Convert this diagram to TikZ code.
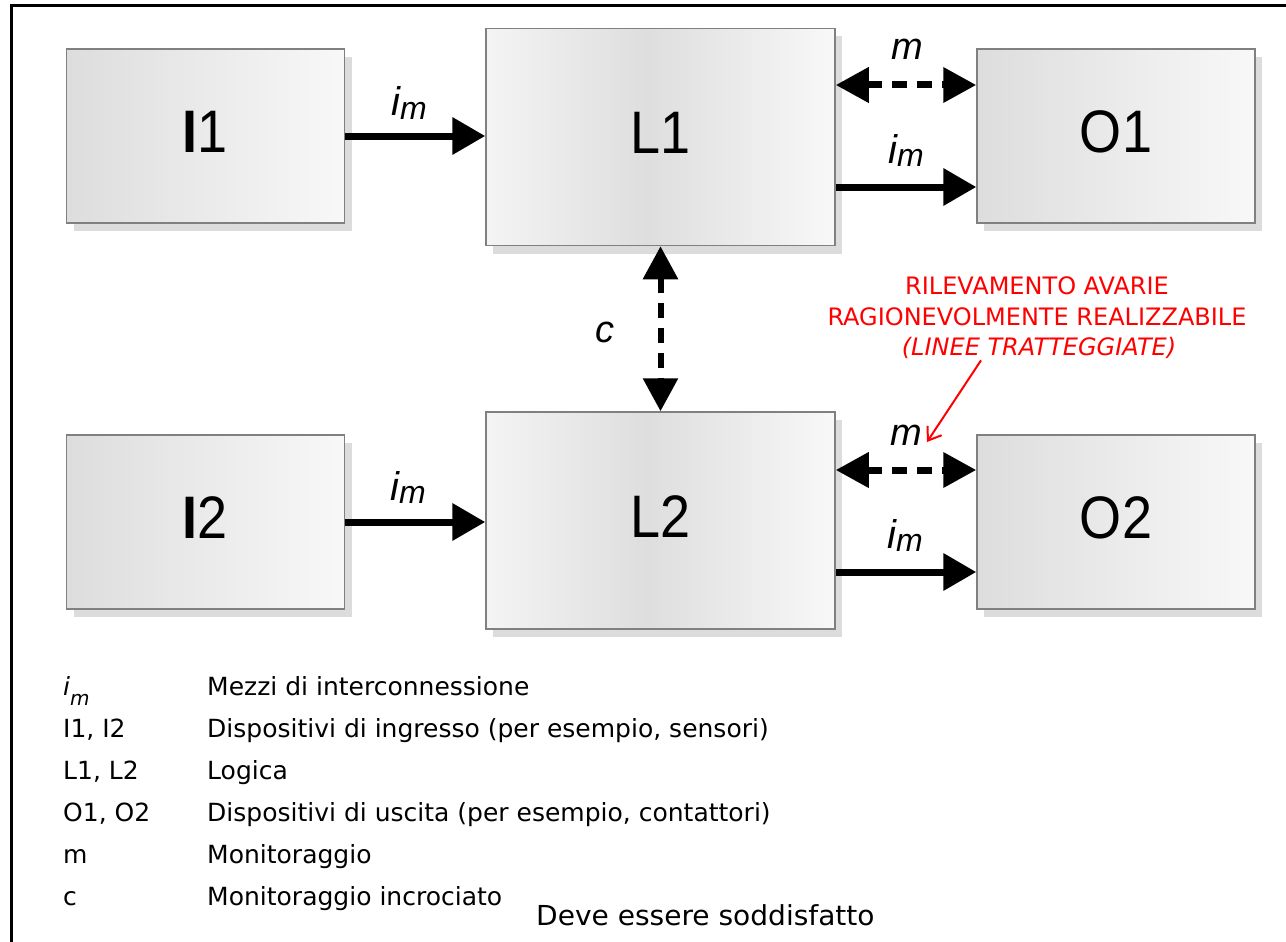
\documentclass[tikz,border=0pt]{standalone}
\usepackage{fontspec}
\setmainfont{Liberation Sans}
\newfontfamily\boxfont[FakeStretch=0.9]{Liberation Sans}
\newfontfamily\legfont{DejaVu Sans}
\newfontfamily\reqfont[FakeStretch=1.02]{DejaVu Sans}
\usetikzlibrary{arrows.meta,shadows}
\definecolor{bordergray}{HTML}{808080}
\definecolor{shadowgray}{HTML}{DCDCDC}
\definecolor{ga}{HTML}{DDDDDD}
\definecolor{gb}{HTML}{F8F8F8}
\definecolor{gc}{HTML}{F4F4F4}
\definecolor{gd}{HTML}{DEDEDE}
\definecolor{notered}{HTML}{FF0000}
\pgfdeclarehorizontalshading{sideshade}{100bp}{color(0bp)=(ga); color(25bp)=(ga); color(75bp)=(gb); color(100bp)=(gb)}
\pgfdeclarehorizontalshading{logicshade}{100bp}{color(0bp)=(gc); color(25bp)=(gc); color(48bp)=(gd); color(75bp)=(gb); color(100bp)=(gb)}
\newcommand\imlabel{{\itshape\fontsize{40}{40}\selectfont i\raisebox{-3pt}{\fontsize{32}{32}\selectfont m}}}
\tikzset{
  blk/.style={draw=bordergray, line width=1.5pt, inner sep=0pt, text depth=8pt,
    drop shadow={shadow xshift=7pt, shadow yshift=-8pt, fill=shadowgray, draw=none, opacity=1},
    font=\boxfont\fontsize{60}{60}\selectfont},
  iobox/.style={blk, shading=sideshade, minimum width=278pt, minimum height=174pt},
  logicbox/.style={blk, shading=logicshade, minimum width=349pt, minimum height=217pt},
  solidarrow/.style={line width=7pt, -{Triangle[length=33pt,width=36pt]}},
  dasharrow/.style={line width=7pt, dash pattern=on 15pt off 10pt,
    {Triangle[length=33pt,width=34pt]}-{Triangle[length=33pt,width=34pt]}},
  lab/.style={inner sep=0pt, anchor=base},
  labi/.style={lab, font=\itshape\fontsize{38}{38}\selectfont},
  legtxt/.style={inner sep=0pt, anchor=base west, font=\legfont\fontsize{25}{25}\selectfont},
  redtxt/.style={inner sep=0pt, anchor=base, text=notered, font=\legfont\fontsize{24}{24}\selectfont},
  redarrow/.style={draw=notered, line width=2pt, -{Straight Barb[length=12pt,width=17pt]}}
}
\begin{document}
\begin{tikzpicture}[x=1pt, y=-1pt]
\useasboundingbox (0,0) rectangle (1286,942);
\fill[white] (0,0) rectangle (1286,942);
\clip (0,0) rectangle (1286,942);
\draw[line width=3pt] (11,6) rectangle (1320,980);

% boxes
\node[iobox] (I1) at (205.5,136) {\textbf{I}1};
\node[logicbox] (L1) at (660.5,137) {L1};
\node[iobox] (O1) at (1116,136) {O1};
\node[iobox] (I2) at (205.5,522) {\textbf{I}2};
\node[logicbox] (L2) at (660.5,520.5) {L2};
\node[iobox] (O2) at (1116,522) {O2};

% connector anchors
\coordinate (m1o) at ([yshift=51pt]O1.west);
\coordinate (i1o) at ([yshift=-51pt]O1.west);
\coordinate (m2o) at ([yshift=52pt]O2.west);
\coordinate (i2o) at ([yshift=-50pt]O2.west);

% connectors
\draw[solidarrow] (I1.east) -- (I1.east -| L1.west);
\draw[solidarrow] (I2.east) -- (I2.east -| L2.west);
\draw[dasharrow] (m1o -| L1.east) -- (m1o);
\draw[solidarrow] (i1o -| L1.east) -- (i1o);
\draw[dasharrow] (m2o -| L2.east) -- (m2o);
\draw[solidarrow] (i2o -| L2.east) -- (i2o);
\draw[dasharrow, line width=6pt] (L1.south) -- (L2.north);

% labels
\node[lab] (im1) at (409,116) {\imlabel};
\node[lab] (im2) at (906,163) {\imlabel};
\node[lab] (im3) at (408,500) {\imlabel};
\node[lab] (im4) at (905,548) {\imlabel};
\node[labi] (m1) at (907,60) {m};
\node[labi] (m2) at (906,445) {m};
\node[labi] (c) at (605,342) {c};

% red note
\node[redtxt] (note1) at (1037,294) {RILEVAMENTO AVARIE};
\node[redtxt] (note2) at (1037,325) {RAGIONEVOLMENTE REALIZZABILE};
\node[redtxt] (note3) at (1039,355) {\itshape (LINEE TRATTEGGIATE)};
\coordinate (redtip) at (927,442);
\draw[redarrow] ([xshift=-58pt,yshift=-2pt]note3.south) -- (redtip);

% legend
\node[legtxt] (k1) at (63,695) {{\itshape i}\raisebox{-10pt}{\itshape\fontsize{20}{20}\selectfont m}};
\node[legtxt] (k2) at (63,737) {I1, I2};
\node[legtxt] (k3) at (63,779) {L1, L2};
\node[legtxt] (k4) at (63,821) {O1, O2};
\node[legtxt] (k5) at (63,863) {m};
\node[legtxt] (k6) at (63,905) {c};
\node[legtxt] (d1) at (207,695) {Mezzi di interconnessione};
\node[legtxt] (d2) at (207,737) {Dispositivi di ingresso (per esempio, sensori)};
\node[legtxt] (d3) at (207,779) {Logica};
\node[legtxt] (d4) at (207,821) {Dispositivi di uscita (per esempio, contattori)};
\node[legtxt] (d5) at (207,863) {Monitoraggio};
\node[legtxt] (d6) at (207,905) {Monitoraggio incrociato};
\node[legtxt, font=\reqfont\fontsize{27.5}{27.5}\selectfont] (req) at (536,925) {Deve essere soddisfatto};
\end{tikzpicture}
\end{document}
